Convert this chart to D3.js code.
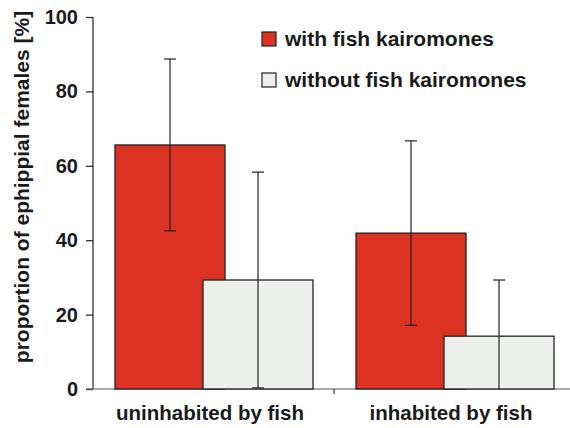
<!DOCTYPE html>
<html><head><meta charset="utf-8">
<script src="https://cdn.jsdelivr.net/npm/d3@7"></script>
<style>
body{margin:0;background:#fff}
text{font-family:"Liberation Sans",Arial,sans-serif;font-weight:bold;fill:#1a1a1a}
</style></head>
<body><svg id="c" width="570" height="428"></svg>
<script>
const categories = ["uninhabited by fish", "inhabited by fish"];
const series = ["with fish kairomones", "without fish kairomones"];
const withFish = [65.6, 41.9];
const withFishErr = [23.1, 24.8];
const withoutFish = [29.3, 14.2];
const withoutFishErr = [29.0, 15.1];
const yTicks = [0, 20, 40, 60, 80, 100];
const colors = ["#dc3224", "#eef0ee"];

const values = [withFish, withoutFish];
const errs = [withFishErr, withoutFishErr];

const svg = d3.select("#c");
const y = d3.scaleLinear().domain([0, 100]).range([389, 17]);
const x0 = d3.scaleBand().domain(categories).range([93, 575]).padding(0);
const x1 = d3.scaleBand().domain(series).range([22, 198]).padding(0);
const barW = x1.step() * 1.25;

// y axis
const yAxis = d3.axisLeft(y).tickValues(yTicks).tickSize(7).tickPadding(8).tickFormat(d3.format("d"));
const gy = svg.append("g").attr("transform", "translate(93,0)").call(yAxis);
gy.select(".domain").attr("stroke", "#222").attr("stroke-width", 1.2).attr("d", "M0,17V389");
gy.selectAll(".tick line").attr("stroke", "#222").attr("stroke-width", 1.2);
gy.selectAll(".tick text").style("font-size", "20px").attr("fill", "#1a1a1a");

// x axis line
const gx = svg.append("g").attr("transform", "translate(0,389)");
gx.append("line").attr("x1", 86).attr("x2", 570).attr("y1", 0).attr("y2", 0).attr("stroke", "#555").attr("stroke-width", 1.2);
gx.selectAll(".ct").data(categories.slice(1)).enter().append("line")
  .attr("x1", d => x0(d)).attr("x2", d => x0(d)).attr("y1", 0).attr("y2", 5)
  .attr("stroke", "#333").attr("stroke-width", 1.2);
gx.selectAll(".cl").data(categories).enter().append("text")
  .attr("x", d => x0(d) + 22 + (x1.step() + barW) / 2 - 4)
  .attr("y", 31).attr("text-anchor", "middle").style("font-size", "20.5px")
  .text(d => d);

// bars
series.forEach((s, si) => {
  const g = svg.append("g");
  g.selectAll("rect").data(categories).enter().append("rect")
    .attr("x", d => x0(d) + x1(s))
    .attr("width", barW)
    .attr("y", (d, i) => y(values[si][i]))
    .attr("height", (d, i) => y(0) - y(values[si][i]))
    .attr("fill", colors[si]).attr("stroke", "#222").attr("stroke-width", 1.3);
  const cx = (d) => x0(d) + x1(s) + barW / 2;
  g.selectAll(".eb").data(categories).enter().append("line")
    .attr("x1", cx).attr("x2", cx)
    .attr("y1", (d, i) => y(Math.min(100, values[si][i] + errs[si][i])))
    .attr("y2", (d, i) => y(Math.max(0, values[si][i] - errs[si][i])))
    .attr("stroke", "#222").attr("stroke-width", 1.2);
  [1, -1].forEach(sg => {
    g.selectAll(".cap" + sg).data(categories).enter().append("line")
      .attr("x1", d => cx(d) - 6).attr("x2", d => cx(d) + 6)
      .attr("y1", (d, i) => y(values[si][i] + sg * errs[si][i]))
      .attr("y2", (d, i) => y(values[si][i] + sg * errs[si][i]))
      .attr("stroke", "#222").attr("stroke-width", 1.2)
      .attr("display", (d, i) => values[si][i] + sg * errs[si][i] < 0 ? "none" : null);
  });
});

// y title
svg.append("text").attr("transform", "translate(29,187) rotate(-90)")
  .attr("text-anchor", "middle").style("font-size", "21px")
  .text("proportion of ephippial females [%]");

// legend
const lg = svg.append("g");
series.forEach((s, i) => {
  lg.append("rect").attr("x", 262).attr("y", 32 + i * 41).attr("width", 14).attr("height", 14)
    .attr("fill", colors[i]).attr("stroke", "#222").attr("stroke-width", 1.2);
  lg.append("text").attr("x", 285).attr("y", 46 + i * 41).style("font-size", "21px").text(s);
});
</script></body></html>
